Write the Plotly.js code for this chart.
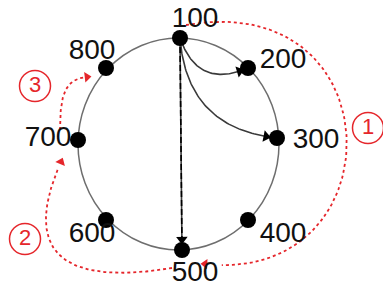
<!DOCTYPE html>
<html><head><meta charset="utf-8">
<script src="https://cdn.plot.ly/plotly-3.0.1.min.js"></script>
<style>html,body{margin:0;padding:0;background:#fff}#chart{width:383px;height:288px}</style>
</head><body><div id="chart"></div>
<script>
// Nodes of the ring (positions in the diagram's pixel-like coordinate space)
const nodeLabels = ['100','200','300','400','500','600','700','800'];
const nodeX = [180,248,277,248,182,106,78,106];
const nodeY = [38,68,138,220,250,220,140,68];
const labelX = [195,283,316,283,195,92,48,92];
const labelY = [20,61,141,235,274,235,139,52];

// Black directed edges (index into nodes) and their bend
const edgeFrom = [0,0,0];
const edgeTo = [1,2,4];
const edgeBend = [40,58,0];

// Red dotted routes: start, two handles, end
const redStartX = [186,172,60];
const redStartY = [25,268,130];
const redC1X = [397,40,60];
const redC1Y = [-12,290,92];
const redC2X = [397,29,66];
const redC2Y = [285,233,79];
const redEndX = [205,61,87];
const redEndY = [264,162,77];

// Red numbered circles
const markText = ['1','2','3'];
const markX = [368,25,35];
const markY = [128,239,86];

function cubic(p0,c1,c2,p3,n){
  const xs=[],ys=[];
  for(let i=0;i<=n;i++){const t=i/n,u=1-t;
    xs.push(u*u*u*p0[0]+3*u*u*t*c1[0]+3*u*t*t*c2[0]+t*t*t*p3[0]);
    ys.push(u*u*u*p0[1]+3*u*u*t*c1[1]+3*u*t*t*c2[1]+t*t*t*p3[1]);}
  return [xs,ys];
}
function angleOf(x1,y1,x2,y2){return Math.atan2(x2-x1,-(y2-y1))*180/Math.PI;}

const traces=[];
// black edges
for(let k=0;k<edgeFrom.length;k++){
  const a=[nodeX[edgeFrom[k]],nodeY[edgeFrom[k]]], b=[nodeX[edgeTo[k]],nodeY[edgeTo[k]]];
  const dx=b[0]-a[0], dy=b[1]-a[1], L=Math.hypot(dx,dy);
  const mid=[(a[0]+b[0])/2,(a[1]+b[1])/2];
  const q=[mid[0]-dy/L*edgeBend[k], mid[1]+dx/L*edgeBend[k]];
  const c1=[a[0]+2/3*(q[0]-a[0]),a[1]+2/3*(q[1]-a[1])];
  const c2=[b[0]+2/3*(q[0]-b[0]),b[1]+2/3*(q[1]-b[1])];
  let [xs,ys]=cubic(a,c1,c2,b,80);
  const keep=xs.map((x,i)=>Math.hypot(x-b[0],ys[i]-b[1])>9);
  xs=xs.filter((_,i)=>keep[i]); ys=ys.filter((_,i)=>keep[i]);
  const n=xs.length-1;
  traces.push({x:xs,y:ys,mode:'lines',line:{color:'#3a3a3a',width:1.6},hoverinfo:'skip'});
  if(edgeBend[k]===0){
    traces.push({x:xs,y:ys,mode:'lines',line:{color:'#000',width:1.6,dash:'6px,3px'},hoverinfo:'skip'});
  }
  traces.push({x:[xs[n]],y:[ys[n]],mode:'markers',hoverinfo:'skip',
    marker:{symbol:'triangle-up',size:10,color:'#000',angle:angleOf(xs[n-3],ys[n-3],xs[n],ys[n])}});
}
// red routes
for(let k=0;k<redStartX.length;k++){
  const [xs,ys]=cubic([redStartX[k],redStartY[k]],[redC1X[k],redC1Y[k]],[redC2X[k],redC2Y[k]],[redEndX[k],redEndY[k]],100);
  const n=xs.length-1;
  traces.push({x:xs.slice(0,n-2),y:ys.slice(0,n-2),mode:'lines',line:{color:'#e5262b',width:1.8,dash:'3px,3px'},hoverinfo:'skip'});
  traces.push({x:[xs[n]],y:[ys[n]],mode:'markers',hoverinfo:'skip',
    marker:{symbol:'triangle-up',size:9,color:'#e5262b',angle:angleOf(xs[n-4],ys[n-4],xs[n],ys[n])}});
}
// nodes
traces.push({x:nodeX,y:nodeY,mode:'markers',hoverinfo:'skip',marker:{size:16,color:'#000'}});
// labels
traces.push({x:labelX,y:labelY,mode:'text',text:nodeLabels,hoverinfo:'skip',cliponaxis:false,
  textfont:{family:'"Liberation Sans Narrow","Arial Narrow","Liberation Sans",Arial,sans-serif',size:28,color:'#111'}});
// numbered circles
traces.push({x:markX,y:markY,mode:'markers+text',text:markText,textposition:'middle center',hoverinfo:'skip',cliponaxis:false,
  marker:{symbol:'circle',size:31,color:'rgba(0,0,0,0)',line:{color:'#e5262b',width:1.5}},
  textfont:{family:'"Liberation Sans",Arial,sans-serif',size:22,color:'#e5262b'}});

const layout={
  width:383,height:288,margin:{l:0,r:0,t:0,b:0},showlegend:false,
  paper_bgcolor:'#fff',plot_bgcolor:'#fff',
  xaxis:{range:[0,383],visible:false,fixedrange:true},
  yaxis:{range:[288,0],visible:false,fixedrange:true},
  shapes:[{type:'circle',xref:'x',yref:'y',layer:'below',
    x0:Math.min(...nodeX),x1:Math.max(...nodeX)+2,y0:Math.min(...nodeY),y1:Math.max(...nodeY),
    line:{color:'#6e6e6e',width:1.5}}]
};
Plotly.newPlot('chart',traces,layout,{staticPlot:true,displayModeBar:false});
</script></body></html>
